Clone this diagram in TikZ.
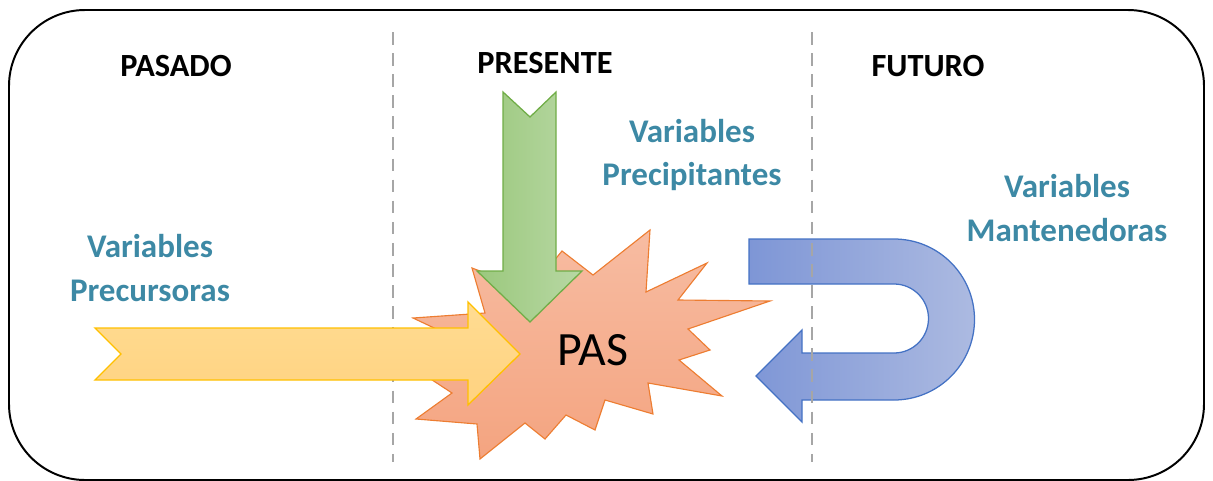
\documentclass[tikz,border=0pt]{standalone}
\usepackage{fontspec}
\setmainfont{Carlito}
\definecolor{labelBlue}{RGB}{61,137,165}
\definecolor{dividerGray}{RGB}{166,166,166}
\definecolor{burstLine}{RGB}{237,125,49}
\definecolor{burstTop}{RGB}{247,188,162}
\definecolor{burstBottom}{RGB}{244,164,128}
\definecolor{pastLine}{RGB}{255,192,0}
\definecolor{pastTop}{RGB}{255,220,146}
\definecolor{pastBottom}{RGB}{255,210,128}
\definecolor{nowLine}{RGB}{112,173,71}
\definecolor{nowLeft}{RGB}{155,200,125}
\definecolor{nowRight}{RGB}{184,216,164}
\definecolor{futureLine}{RGB}{68,114,196}
\definecolor{futureLeft}{RGB}{126,150,214}
\definecolor{futureRight}{RGB}{172,186,225}

\begin{document}
\begin{tikzpicture}[x=0.025cm, y=-0.025cm,
    header/.style={font=\bfseries\fontsize{23}{27}\selectfont},
    varlabel/.style={text=labelBlue, align=center, font=\bfseries\fontsize{23.5}{31}\selectfont},
    divider/.style={dividerGray, line width=1.5pt, dash pattern=on 9pt off 6pt}]
    \useasboundingbox (0,0) rectangle (1213,481);
    % frame and time dividers
    \draw[line width=1.4pt, rounded corners=1.9cm] (9,10) rectangle (1204,480);
    \draw[divider] (393,32) -- (393,462);
    % burst
    \shadedraw[draw=burstLine, top color=burstTop, bottom color=burstBottom, line width=0.8pt]
        (650,230) -- (646,292) -- (707,263) -- (678,300) -- (770,301) -- (688,329)
        -- (710,350) -- (679,360) -- (722,396) -- (648,383) -- (653,414) -- (605,400)
        -- (595,430) -- (566,415) -- (545,439) -- (525,423) -- (480,459) -- (477,424)
        -- (416,419) -- (452,393) -- (420,372) -- (470,345) -- (413,318) -- (485,313)
        -- (472,268) -- (530,290) -- (562,251) -- (593,275) -- cycle;
    % arrows
    \shadedraw[draw=pastLine, top color=pastTop, bottom color=pastBottom, line width=0.9pt]
        (95,328) -- (468,328) -- (468,302) -- (520,354) -- (468,405) -- (468,380)
        -- (95,380) -- (121,354) -- cycle;
    \shadedraw[draw=nowLine, left color=nowLeft, right color=nowRight, line width=0.9pt]
        (503,92) -- (530,117) -- (556,92) -- (556,271) -- (582,271) -- (530,322)
        -- (477,271) -- (503,271) -- cycle;
    \shadedraw[draw=futureLine, left color=futureLeft, right color=futureRight, line width=0.9pt]
        (749,239) -- (894,239) arc (-90:90:80.5) -- (802,400) -- (802,422) -- (756,376)
        -- (802,330) -- (802,353) -- (894,353) arc (90:-90:34.5) -- (749,284) -- cycle;
    \draw[divider] (812,32) -- (812,462);
    % labels
    \node[header] (pasado) at (176,66) {PASADO};
    \node[header] (presente) at (545,63) {PRESENTE};
    \node[header] (futuro) at (928,66) {FUTURO};
    \node[varlabel] (precursoras) at (150,268) {Variables\\Precursoras};
    \node[varlabel] (precipitantes) at (692,155) {Variables\\Precipitantes};
    \node[varlabel] (mantenedoras) at (1067,208) {Variables\\Mantenedoras};
    \node[font=\fontsize{34}{40}\selectfont] (pas) at (593,350) {PAS};
\end{tikzpicture}
\end{document}
